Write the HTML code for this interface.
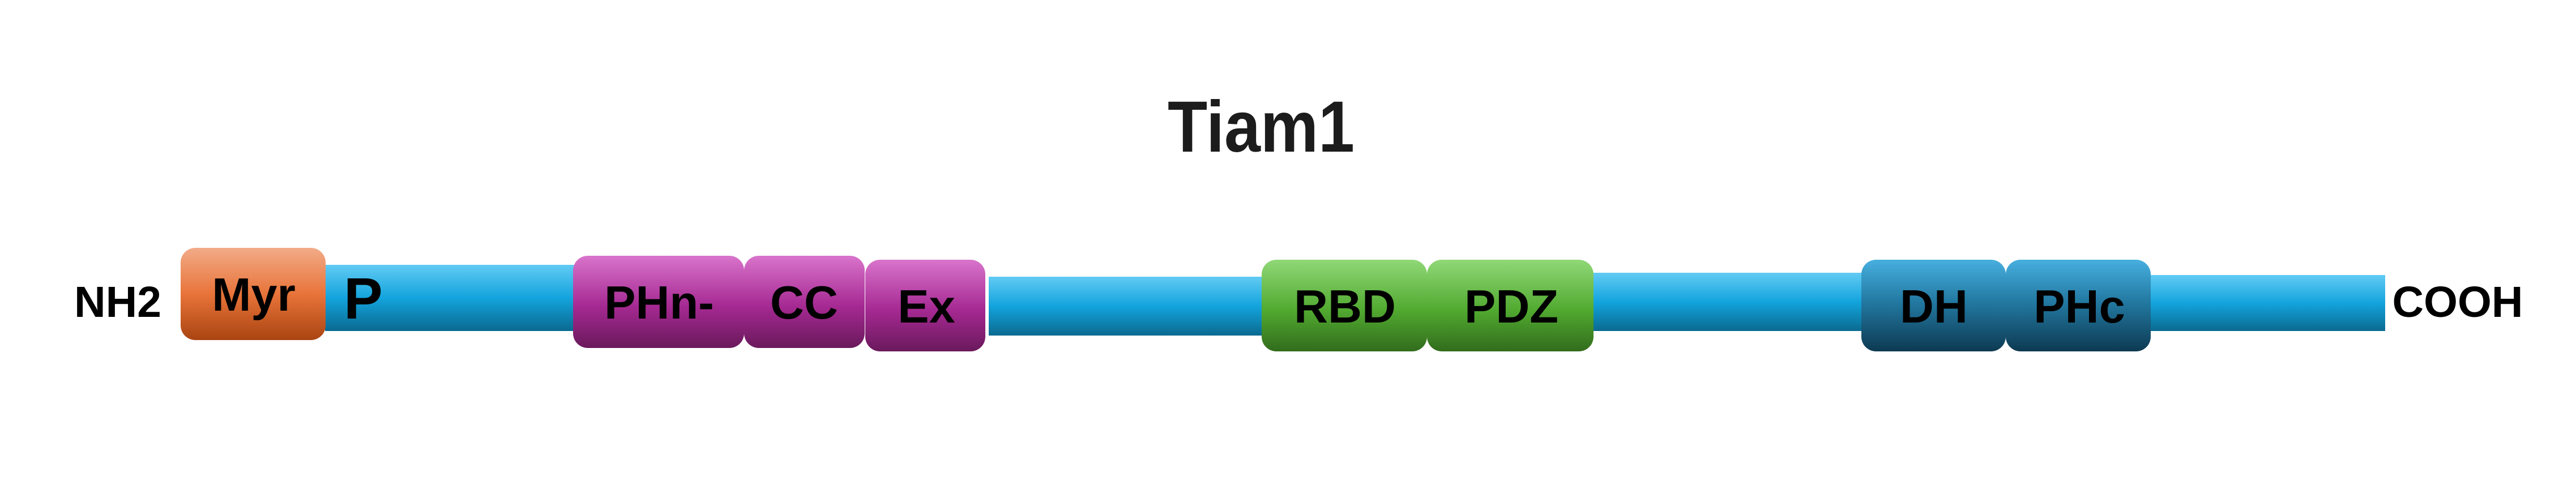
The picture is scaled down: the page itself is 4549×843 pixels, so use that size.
<!DOCTYPE html>
<html>
<head>
<meta charset="utf-8">
<style>
  html,body{margin:0;padding:0;background:#ffffff;}
  body{width:4549px;height:843px;overflow:hidden;}
  svg{display:block;}
  text{font-family:"Liberation Sans", Arial, sans-serif;font-weight:bold;fill:#000;}
</style>
</head>
<body>
<svg width="4549" height="843" viewBox="0 0 4549 843" xmlns="http://www.w3.org/2000/svg">
  <defs>
    <linearGradient id="gBlue" x1="0" y1="0" x2="0" y2="1">
      <stop offset="0" stop-color="#62cbf4"/>
      <stop offset="0.5" stop-color="#13a4dd"/>
      <stop offset="1" stop-color="#0a6a90"/>
    </linearGradient>
    <linearGradient id="gOrange" x1="0" y1="0" x2="0" y2="1">
      <stop offset="0" stop-color="#f2ab88"/>
      <stop offset="0.5" stop-color="#e8743a"/>
      <stop offset="1" stop-color="#aa4411"/>
    </linearGradient>
    <linearGradient id="gPurple" x1="0" y1="0" x2="0" y2="1">
      <stop offset="0" stop-color="#d974cc"/>
      <stop offset="0.55" stop-color="#a52992"/>
      <stop offset="1" stop-color="#6a195c"/>
    </linearGradient>
    <linearGradient id="gGreen" x1="0" y1="0" x2="0" y2="1">
      <stop offset="0" stop-color="#90d877"/>
      <stop offset="0.55" stop-color="#51aa30"/>
      <stop offset="1" stop-color="#326c1c"/>
    </linearGradient>
    <linearGradient id="gDark" x1="0" y1="0" x2="0" y2="1">
      <stop offset="0" stop-color="#47afdf"/>
      <stop offset="0.45" stop-color="#237aa3"/>
      <stop offset="1" stop-color="#0d3a52"/>
    </linearGradient>
  </defs>

  <!-- Title -->
  <text x="2227" y="268" font-size="128" text-anchor="middle" style="fill:#1c1c1c" textLength="330" lengthAdjust="spacingAndGlyphs">Tiam1</text>

  <!-- Blue backbone segments -->
  <rect x="574" y="468" width="440" height="117" fill="url(#gBlue)"/>
  <rect x="1746" y="489" width="484" height="104" fill="url(#gBlue)"/>
  <rect x="2812" y="482" width="477" height="103" fill="url(#gBlue)"/>
  <rect x="3796" y="486" width="416" height="99" fill="url(#gBlue)"/>

  <!-- Myr -->
  <rect x="319" y="438" width="256" height="163" rx="26" ry="26" fill="url(#gOrange)"/>

  <!-- Purple domains -->
  <rect x="1012" y="452" width="302" height="163" rx="26" ry="26" fill="url(#gPurple)"/>
  <rect x="1314" y="452" width="213" height="163" rx="26" ry="26" fill="url(#gPurple)"/>
  <rect x="1528" y="459" width="212" height="162" rx="26" ry="26" fill="url(#gPurple)"/>

  <!-- Green domains -->
  <rect x="2228" y="459" width="292" height="162" rx="26" ry="26" fill="url(#gGreen)"/>
  <rect x="2520" y="459" width="294" height="162" rx="26" ry="26" fill="url(#gGreen)"/>

  <!-- Dark blue domains -->
  <rect x="3287" y="459" width="255" height="162" rx="26" ry="26" fill="url(#gDark)"/>
  <rect x="3542" y="459" width="256" height="162" rx="26" ry="26" fill="url(#gDark)"/>

  <!-- Terminal labels -->
  <text x="208" y="560" font-size="77" text-anchor="middle">NH2</text>
  <text x="4340" y="560" font-size="77" text-anchor="middle">COOH</text>

  <!-- Domain labels -->
  <text x="448" y="549" font-size="83" text-anchor="middle">Myr</text>
  <text x="607" y="563" font-size="103">P</text>
  <text x="1164" y="563" font-size="83" text-anchor="middle">PHn-</text>
  <text x="1420" y="563" font-size="83" text-anchor="middle">CC</text>
  <text x="1636" y="570" font-size="83" text-anchor="middle">Ex</text>
  <text x="2375" y="570" font-size="83" text-anchor="middle">RBD</text>
  <text x="2669" y="570" font-size="83" text-anchor="middle">PDZ</text>
  <text x="3415" y="570" font-size="83" text-anchor="middle">DH</text>
  <text x="3672" y="570" font-size="83" text-anchor="middle">PHc</text>
</svg>
</body>
</html>
